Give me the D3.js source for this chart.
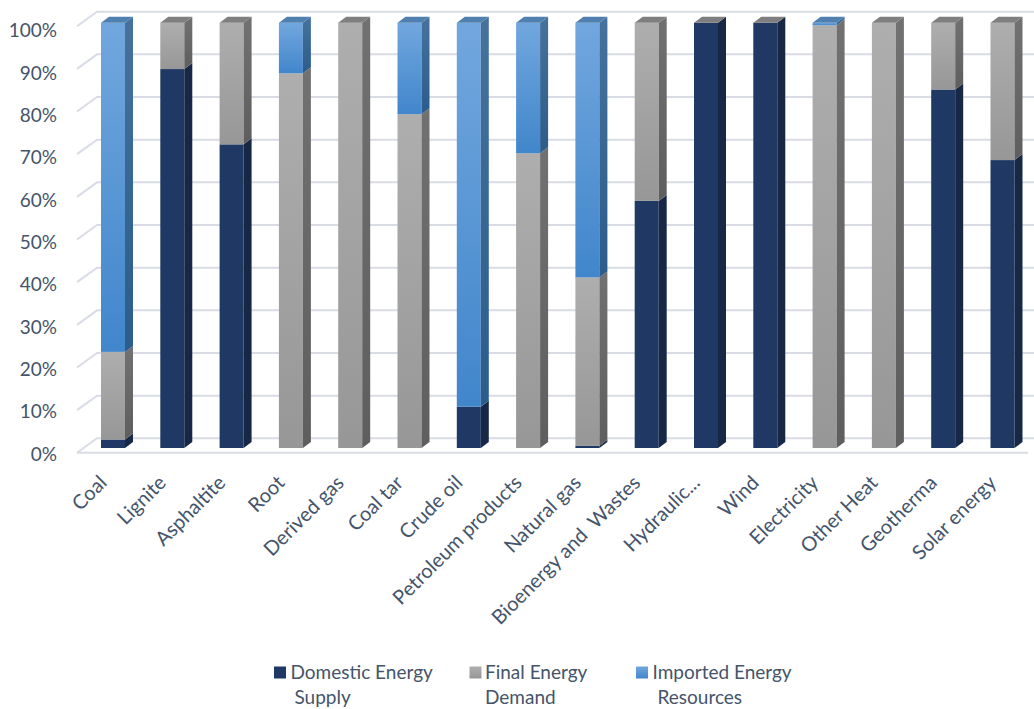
<!DOCTYPE html>
<html>
<head>
<meta charset="utf-8">
<script src="https://cdn.jsdelivr.net/npm/d3@7"></script>
<style>
  html, body { margin: 0; padding: 0; background: #fff; }
  svg { display: block; }
  text { font-family: Lato, "Open Sans", sans-serif; fill: #44546A; white-space: pre; }
</style>
</head>
<body>
<svg id="chart" width="1034" height="709"></svg>
<script>
// ---- data ----
const categories = ["Coal", "Lignite", "Asphaltite", "Root", "Derived gas", "Coal tar", "Crude oil",
  "Petroleum products", "Natural gas", "Bioenergy and  Wastes", "Hydraulic...", "Wind",
  "Electricity", "Other Heat", "Geotherma", "Solar energy"];
const domesticSupply = [2.0, 89.1, 71.4, 0, 0, 0, 9.7, 0, 0.5, 58.1, 100, 100, 0, 0, 84.3, 67.7];
const finalDemand    = [20.6, 10.9, 28.6, 88.1, 100, 78.5, 0, 69.3, 39.6, 41.9, 0, 0, 99.4, 100, 15.7, 32.3];
const importedRes    = [77.4, 0, 0, 11.9, 0, 21.5, 90.3, 30.7, 59.9, 0, 0, 0, 0.6, 0, 0, 0];
const seriesNames = ["Domestic Energy Supply", "Final Energy Demand", "Imported Energy Resources"];
const yTicks = [0, 0.1, 0.2, 0.3, 0.4, 0.5, 0.6, 0.7, 0.8, 0.9, 1.0];

const svg = d3.select("#chart");
const defs = svg.append("defs");

function grad(id, top, bottom) {
  const g = defs.append("linearGradient").attr("id", id)
    .attr("x1", 0).attr("y1", 0).attr("x2", 0).attr("y2", 1);
  g.append("stop").attr("offset", "0%").attr("stop-color", top);
  g.append("stop").attr("offset", "100%").attr("stop-color", bottom);
}
grad("gFrontD", "#203864", "#203864");
grad("gSideD", "#172846", "#172846");
grad("gFrontG", "#AEAEAE", "#979797");
grad("gSideG", "#717171", "#5E5E5E");
grad("gFrontB", "#72A7DE", "#4186CB");
grad("gSideB", "#46729D", "#2B5C8B");

const styles = [
  { front: "url(#gFrontD)", side: "url(#gSideD)", top: "#2C3F66", legend: "url(#gFrontD)" },
  { front: "url(#gFrontG)", side: "url(#gSideG)", top: "#7F7F7F", legend: "url(#gFrontG)" },
  { front: "url(#gFrontB)", side: "url(#gSideB)", top: "#5080B0", legend: "url(#gFrontB)" }
];

// ---- scales ----
const yBack = d3.scaleLinear().domain([0, 1]).range([438.3, 11.7]);
const yLabel = d3.scaleLinear().domain([0, 1]).range([453, 29.7]);
const yBar = d3.scaleLinear().domain([0, 1]).range([448, 22.7]);
const step = 59.3, bw = 24;
const pi = 1 - bw / step;
const xStart = 101 - step * pi / 2;
const x = d3.scaleBand().domain(categories)
  .range([xStart, xStart + step * categories.length])
  .paddingInner(pi).paddingOuter(pi / 2);
const depthX = 8, depthY = -6;
const wallDX = 20, wallDY = 14.5;
const leftX = 77;

// ---- gridlines ----
const grid = svg.append("g");
yTicks.forEach(t => {
  const yb = yBack(t);
  grid.append("polyline")
    .attr("points", `${leftX},${yb + wallDY} ${leftX + wallDX},${yb} 1034,${yb}`)
    .attr("fill", "none").attr("stroke", "#D9DCE5").attr("stroke-width", 2);
});
// floor front edge
grid.append("line")
  .attr("x1", leftX).attr("x2", 1028)
  .attr("y1", yBack(0) + wallDY).attr("y2", yBack(0) + wallDY)
  .attr("stroke", "#D9DCE5").attr("stroke-width", 2);

// ---- y axis labels ----
svg.append("g").selectAll("text").data(yTicks).join("text")
  .attr("x", 57).attr("y", d => yLabel(d))
  .attr("text-anchor", "end").attr("dominant-baseline", "central")
  .style("font-size", "19px")
  .text(d => d3.format(".0%")(d));

// ---- stacked bars ----
const rows = categories.map((c, i) => ({
  cat: c, vals: [domesticSupply[i] / 100, finalDemand[i] / 100, importedRes[i] / 100]
}));

const barsG = svg.append("g");
rows.forEach(r => {
  const x0 = x(r.cat), w = x.bandwidth();
  const g = barsG.append("g");
  let acc = 0;
  r.vals.forEach((v, s) => {
    if (v <= 0) return;
    const y0 = yBar(acc), y1 = yBar(acc + v);
    acc += v;
    g.append("rect").attr("x", x0).attr("y", y1).attr("width", w).attr("height", y0 - y1)
      .attr("fill", styles[s].front);
    g.append("polygon")
      .attr("points", `${x0 + w},${y0} ${x0 + w + depthX},${y0 + depthY} ${x0 + w + depthX},${y1 + depthY} ${x0 + w},${y1}`)
      .attr("fill", styles[s].side);
  });
  const topSeries = r.vals[2] > 0 ? 2 : 1;
  const yt = yBar(acc);
  g.append("polygon")
    .attr("points", `${x0},${yt} ${x0 + depthX},${yt + depthY} ${x0 + w + depthX},${yt + depthY} ${x0 + w},${yt}`)
    .attr("fill", styles[topSeries].top);
});

// ---- x labels ----
svg.append("g").selectAll("text").data(categories).join("text")
  .attr("transform", d => `translate(${x(d) + x.bandwidth() / 2 - 5},${484}) rotate(-45)`)
  .attr("text-anchor", "end")
  .style("font-size", "20px")
  .text(d => d);

// ---- legend ----
const legendItems = [
  { sq: 274, tx: 290.5, ind: 4, l1: "Domestic Energy", l2: "Supply" },
  { sq: 469.5, tx: 485, ind: 0, l1: "Final Energy", l2: "Demand" },
  { sq: 636, tx: 652.5, ind: 5, l1: "Imported Energy", l2: "Resources" }
];
const lg = svg.append("g");
legendItems.forEach((it, i) => {
  lg.append("rect").attr("x", it.sq).attr("y", 666.5).attr("width", 12).attr("height", 12)
    .attr("fill", styles[i].legend);
  lg.append("text").attr("x", it.tx).attr("y", 679).style("font-size", "19px").text(it.l1);
  lg.append("text").attr("x", it.tx + it.ind).attr("y", 703.5).style("font-size", "19px").text(it.l2);
});
</script>
</body>
</html>
